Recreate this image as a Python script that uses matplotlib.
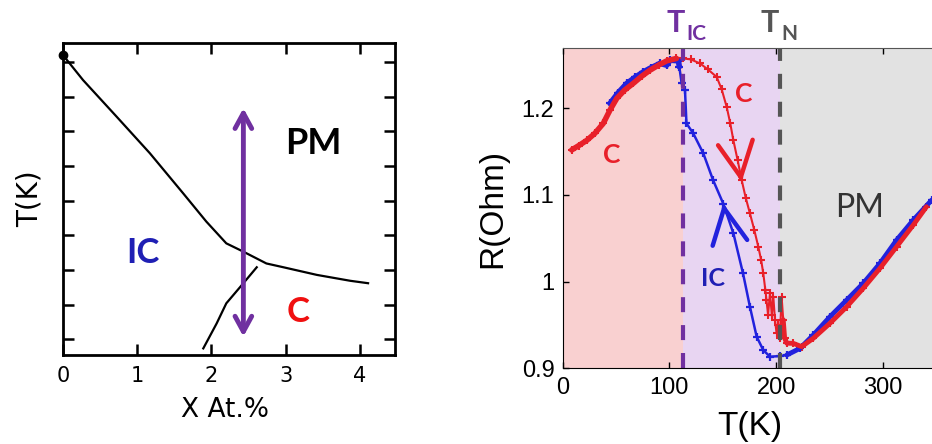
import numpy as np
import matplotlib.pyplot as plt

# ---- datos panel izquierdo (diagrama de fases) ----
upper_x = [0, 0.27, 0.72, 1.17, 1.62, 1.93, 2.20, 2.43, 2.74, 2.97, 3.42, 3.87, 4.11]
upper_y = [8.65, 7.93, 6.88, 5.82, 4.66, 3.85, 3.22, 2.98, 2.64, 2.53, 2.31, 2.14, 2.07]
lower_x = [1.89, 2.07, 2.20, 2.43, 2.61]
lower_y = [0.19, 0.91, 1.49, 2.07, 2.53]
x_ticks = [0, 1, 2, 3, 4]

# ---- datos panel derecho R(T) ----
red_T = [8.4, 15, 22.5, 30, 38, 44.3, 50.6, 58, 66, 74, 81.8, 90, 97.5, 106.6, 113,
         120, 128.7, 136, 144.3, 149, 153.7, 157, 160, 164, 167.8, 171.5, 175.5,
         179.5, 183.4, 186, 188, 190, 191, 192.5, 194.3, 196, 197.4, 199, 200.5,
         202, 203.5, 205.2, 206.7, 208, 210, 216, 224, 234.9, 250.5, 266.2, 281.7,
         297.4, 313, 328.6, 341]
red_R = [1.152, 1.157, 1.163, 1.171, 1.1826, 1.198, 1.2114, 1.221, 1.2287, 1.237,
         1.244, 1.250, 1.2548, 1.2576, 1.2576, 1.2565, 1.2518, 1.245, 1.2363, 1.222,
         1.2017, 1.183, 1.163, 1.140, 1.117, 1.097, 1.0788, 1.060, 1.040, 1.025,
         1.0096, 0.990, 0.9788, 0.962, 0.9865, 0.962, 0.9826, 0.9557, 0.9404,
         0.950, 0.935, 0.9826, 0.956, 0.935, 0.929, 0.9288, 0.925, 0.9346, 0.9519,
         0.971, 0.9923, 1.0154, 1.0403, 1.0653, 1.0864]
blue_T = [44.3, 52, 60, 68, 75.5, 83, 91.2, 97.5, 100.6, 108.5, 109.3, 111.5, 114.6,
          116, 122.4, 131.8, 141, 150.5, 160, 169, 175.5, 181.8, 188, 194.3, 203.6,
          210, 222.4, 234.9, 250.5, 266.2, 281.7, 297.4, 313, 328.6, 345.8]
blue_R = [1.2056, 1.218, 1.2287, 1.236, 1.242, 1.247, 1.2518, 1.2498, 1.2556,
          1.2548, 1.2479, 1.2287, 1.221, 1.1826, 1.171, 1.148, 1.117, 1.090, 1.0557,
          1.0096, 0.971, 0.9365, 0.921, 0.9134, 0.9141, 0.9153, 0.923, 0.9384,
          0.9595, 0.9788, 0.998, 1.0211, 1.048, 1.071, 1.094]
T_IC = 113
T_N = 204
r_ticks = [0.9, 1.0, 1.1, 1.2]
r_labels = ['0.9', '1', '1.1', '1.2']
t_ticks = [0, 100, 200, 300]

purple = '#7030A0'
red = '#E8202A'
blue = '#2222DD'
bold_font = 'Lato'
num_font = 'Liberation Sans'

fig = plt.figure(figsize=(9.32, 4.44), dpi=100)

# ---------------- panel izquierdo ----------------
ax1 = fig.add_axes([0.0676, 0.2005, 0.356, 0.7027])
ax1.plot(upper_x, upper_y, color='k', lw=1.6)
ax1.plot(lower_x, lower_y, color='k', lw=1.6)
ax1.plot(upper_x[:1], upper_y[:1], 'ko', ms=6, clip_on=False)
ax1.annotate('', xy=(2.43, 0.53), xytext=(2.43, 7.12),
             arrowprops=dict(arrowstyle='<->,head_length=0.55,head_width=0.3',
                             color=purple, lw=3.5, mutation_scale=20,
                             shrinkA=0, shrinkB=0))
ax1.set_xlim(0, 4.47)
ax1.set_ylim(0, 9)
ax1.set_xticks(x_ticks)
ax1.set_yticks(np.arange(0.45, 9, 1))
ax1.set_yticklabels([])
ax1.tick_params(direction='in', length=8, width=1.8, top=True, right=True,
                labelsize=15, pad=8)
for s in ax1.spines.values():
    s.set_linewidth(2)
ax1.text(3.37, 6.1, 'PM', fontsize=26, fontweight='bold', family=bold_font,
         ha='center', va='center')
ax1.text(1.08, 2.93, 'IC', fontsize=25, fontweight='bold', family=bold_font,
         color='#1F1FB4', ha='center', va='center')
ax1.text(3.17, 1.25, 'C', fontsize=25, fontweight='bold', family=bold_font,
         color='#F01010', ha='center', va='center')
fig.text(0.032, 0.552, 'T(K)', rotation=90, fontsize=20, ha='center', va='center')
fig.text(0.2414, 0.0766, 'X At.%', fontsize=19, ha='center', va='center')

# ---------------- panel derecho ----------------
ax2 = fig.add_axes([0.6038, 0.1705, 0.412, 0.7221])
ax2.axvspan(0, T_IC, color='#F9D0D0', lw=0)
ax2.axvspan(T_IC, T_N, color='#E8D5F2', lw=0)
ax2.axvspan(T_N, 400, color='#E2E2E2', lw=0)

# trazo fino con marcadores + tramos densos mas gruesos
ax2.plot(blue_T, blue_R, color=blue, lw=1.8, marker='+', ms=6, mew=1.6)
ax2.plot(red_T, red_R, color=red, lw=1.5, marker='+', ms=6, mew=1.5)
bT, bR = np.array(blue_T), np.array(blue_R)
rT, rR = np.array(red_T), np.array(red_R)
for T, R, c in [(bT, bR, blue), (rT, rR, red)]:
    lo = T <= 110
    hi = T >= 206
    ax2.plot(T[lo], R[lo], color=c, lw=4, solid_capstyle='round')
    ax2.plot(T[hi], R[hi], color=c, lw=3.5, solid_capstyle='round')

ax2.axvline(T_IC, color=purple, lw=3, ls=(0, (3.6, 3.1)))
ax2.axvline(T_N, color='#555555', lw=3, ls=(0, (3.6, 3.1)))

# flechas en las curvas
ax2.annotate('', xy=(167.7, 1.115), xytext=(166.8, 1.122),
             arrowprops=dict(arrowstyle='->,head_length=0.9,head_width=0.45',
                             color=red, lw=3.2, mutation_scale=28,
                             shrinkA=0, shrinkB=0))
ax2.annotate('', xy=(150.5, 1.0903), xytext=(151.5, 1.083),
             arrowprops=dict(arrowstyle='->,head_length=0.9,head_width=0.45',
                             color=blue, lw=3.2, mutation_scale=28,
                             shrinkA=0, shrinkB=0))

ax2.set_xlim(0, 360)
ax2.set_ylim(0.9, 1.27)
ax2.set_xticks(t_ticks)
ax2.set_yticks(r_ticks)
ax2.set_yticklabels(r_labels)
ax2.tick_params(direction='in', length=4, width=1, top=True, labelsize=17, pad=6)
for lab in ax2.get_xticklabels() + ax2.get_yticklabels():
    lab.set_family(num_font)
ax2.spines['top'].set_color('#555555')
ax2.spines['right'].set_visible(False)

ax2.text(46, 1.146, 'C', fontsize=19, fontweight='bold', family=bold_font,
         color=red, ha='center', va='center')
ax2.text(170, 1.217, 'C', fontsize=19, fontweight='bold', family=bold_font,
         color=red, ha='center', va='center')
ax2.text(141, 1.004, 'IC', fontsize=18, fontweight='bold', family=bold_font,
         color='#1F1FB4', ha='center', va='center')
ax2.text(278.7, 1.0846, 'PM', fontsize=23, family=bold_font, color='#333333',
         ha='center', va='center')

tr = ax2.get_xaxis_transform()
ax2.text(105.9, 1.05, 'T', transform=tr, fontsize=22, fontweight='bold',
         family=bold_font, color=purple, ha='center', va='baseline')
ax2.text(116.2, 1.024, 'IC', transform=tr, fontsize=15, fontweight='bold',
         family=bold_font, color=purple, ha='left', va='baseline')
ax2.text(194.3, 1.05, 'T', transform=tr, fontsize=22, fontweight='bold',
         family=bold_font, color='#555555', ha='center', va='baseline')
ax2.text(205.2, 1.024, 'N', transform=tr, fontsize=15, fontweight='bold',
         family=bold_font, color='#555555', ha='left', va='baseline')

fig.text(0.529, 0.5315, 'R(Ohm)', rotation=90, fontsize=24, family=num_font,
         ha='center', va='center')
fig.text(0.8047, 0.0383, 'T(K)', fontsize=24, family=num_font,
         ha='center', va='center')

plt.savefig('out.png', dpi=100)
